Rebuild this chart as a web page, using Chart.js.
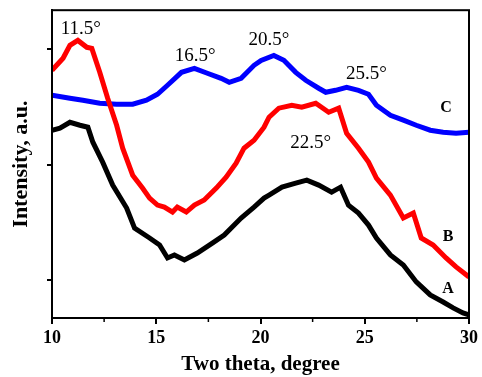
<!DOCTYPE html>
<html>
<head>
<meta charset="utf-8">
<script src="https://cdn.jsdelivr.net/npm/chart.js@4/dist/chart.umd.min.js"></script>
<style>
  html, body { margin: 0; padding: 0; background: #fff; }
  #wrap { width: 482px; height: 377px; }
</style>
</head>
<body>
<div id="wrap"><canvas id="xrd"></canvas></div>
<script>
// (two theta, intensity a.u.)
const xA = [10.0, 10.38, 10.86, 11.34, 11.72, 11.96, 12.43, 12.91, 13.58, 13.96, 14.68, 15.16, 15.54, 15.87, 16.35, 16.97, 17.69, 18.26, 19.07, 19.69, 20.17, 20.41, 21.03, 21.69, 22.22, 22.79, 23.41, 23.84, 24.22, 24.70, 25.18, 25.56, 26.23, 26.85, 27.47, 28.14, 28.76, 29.24, 29.71, 30.0];
const yA = [229.9, 231.6, 236.8, 234.2, 232.5, 219.5, 202.2, 182.3, 162.4, 145.0, 136.4, 130.3, 119.1, 121.7, 117.3, 123.4, 132.0, 139.0, 153.7, 163.2, 171.0, 173.6, 180.5, 184.0, 186.6, 182.3, 176.2, 180.5, 164.9, 158.0, 147.6, 136.4, 121.7, 113.0, 98.3, 87.0, 80.9, 75.8, 71.4, 69.7];

const xB = [10.0, 10.53, 10.86, 11.24, 11.67, 11.91, 12.29, 12.67, 13.10, 13.39, 13.87, 14.34, 14.68, 15.06, 15.39, 15.78, 16.01, 16.44, 16.83, 17.30, 17.88, 18.35, 18.83, 19.21, 19.69, 20.17, 20.41, 20.88, 21.50, 21.98, 22.65, 23.27, 23.75, 24.13, 24.70, 25.18, 25.56, 26.23, 26.85, 27.33, 27.71, 28.28, 28.90, 29.38, 30.0];
const yB = [281.9, 292.3, 303.5, 307.8, 301.8, 300.9, 280.1, 257.6, 234.2, 214.3, 190.9, 179.7, 171.0, 165.0, 163.2, 158.9, 163.2, 158.9, 165.0, 169.3, 179.7, 189.2, 201.3, 214.3, 221.2, 232.5, 241.2, 249.0, 251.6, 249.8, 253.3, 245.5, 249.0, 227.3, 214.3, 202.2, 188.3, 173.6, 153.7, 158.0, 136.4, 130.3, 119.1, 111.3, 102.6];

const xC = [10.0, 10.86, 11.48, 12.29, 13.10, 13.87, 14.53, 15.06, 15.54, 16.21, 16.83, 17.45, 18.11, 18.50, 19.07, 19.69, 20.03, 20.64, 21.12, 21.69, 22.17, 22.79, 23.13, 23.60, 24.13, 24.70, 25.18, 25.56, 26.23, 26.85, 27.47, 28.14, 28.76, 29.38, 30.0];
const yC = [260.2, 257.6, 255.9, 253.3, 252.4, 252.4, 255.9, 261.1, 268.9, 280.1, 283.6, 279.3, 274.9, 271.5, 274.9, 286.2, 290.5, 294.8, 290.5, 280.1, 273.2, 266.3, 262.8, 264.5, 267.1, 264.5, 261.1, 251.6, 242.9, 238.6, 234.2, 229.9, 228.2, 227.3, 228.2];

const xTicks = [10, 15, 20, 25, 30];
const xMinor = [12.5, 17.5, 22.5, 27.5];
const yTicks = [100, 200, 300];

// peak notes and curve letters, placed in data units
const notes = [
  { text: '11.5°', x: 11.38, y: 318, bold: false },
  { text: '16.5°', x: 16.87, y: 294, bold: false },
  { text: '20.5°', x: 20.41, y: 308, bold: false },
  { text: '25.5°', x: 25.08, y: 279, bold: false },
  { text: '22.5°', x: 22.41, y: 219, bold: false },
  { text: 'C', x: 28.9, y: 249, bold: true },
  { text: 'B', x: 29.0, y: 137, bold: true },
  { text: 'A', x: 29.0, y: 92, bold: true }
];

const pts = (xs, ys) => xs.map((x, i) => ({ x: x, y: ys[i] }));
const serif = '"Liberation Serif", "Times New Roman", serif';

const frameAndNotes = {
  id: 'frameAndNotes',
  afterDraw(chart) {
    const { ctx, chartArea: a, scales } = chart;
    ctx.save();
    ctx.strokeStyle = '#000';
    ctx.lineWidth = 2;
    ctx.strokeRect(a.left, a.top, a.right - a.left, a.bottom - a.top);
    // minor ticks on x
    ctx.lineWidth = 1.5;
    xMinor.forEach(v => {
      const px = scales.x.getPixelForValue(v);
      ctx.beginPath();
      ctx.moveTo(px, a.bottom);
      ctx.lineTo(px, a.bottom + 4);
      ctx.stroke();
    });
    ctx.fillStyle = '#000';
    ctx.textAlign = 'center';
    ctx.textBaseline = 'middle';
    notes.forEach(n => {
      ctx.font = n.bold ? 'bold 16px ' + serif : '19px ' + serif;
      ctx.fillText(n.text, scales.x.getPixelForValue(n.x), scales.y.getPixelForValue(n.y));
    });
    ctx.restore();
  }
};

new Chart(document.getElementById('xrd'), {
  type: 'line',
  data: {
    datasets: [
      { label: 'A', data: pts(xA, yA), borderColor: '#000000', order: 1 },
      { label: 'B', data: pts(xB, yB), borderColor: '#ff0000', order: 0 },
      { label: 'C', data: pts(xC, yC), borderColor: '#0000ff', order: 2 }
    ]
  },
  options: {
    responsive: true,
    maintainAspectRatio: false,
    animation: false,
    layout: { padding: { top: 10, right: 11, left: 0, bottom: 0 } },
    elements: {
      line: { borderWidth: 5, tension: 0 },
      point: { radius: 0 }
    },
    plugins: { legend: { display: false }, tooltip: { enabled: false } },
    scales: {
      x: {
        type: 'linear',
        min: 10,
        max: 30,
        afterBuildTicks: s => { s.ticks = xTicks.map(v => ({ value: v })); },
        afterFit: s => { s.height = 59; },
        ticks: {
          color: '#000',
          padding: 4,
          maxRotation: 0,
          font: { family: serif, size: 18, weight: 'bold' }
        },
        grid: { drawOnChartArea: false, color: '#000', lineWidth: 2, tickLength: 6 },
        border: { display: true, color: '#000', width: 2 },
        title: {
          display: true,
          text: 'Two theta, degree',
          color: '#000',
          padding: { top: 0, bottom: 0 },
          font: { family: serif, size: 21, weight: 'bold' }
        }
      },
      y: {
        min: 67,
        max: 334,
        afterBuildTicks: s => { s.ticks = yTicks.map(v => ({ value: v })); },
        afterFit: s => { s.width = 52; },
        ticks: { callback: () => '', color: '#000' },
        grid: { drawOnChartArea: false, color: '#000', lineWidth: 2, tickLength: 5 },
        border: { display: true, color: '#000', width: 2 },
        title: {
          display: true,
          text: 'Intensity, a.u.',
          color: '#000',
          padding: { top: 8, bottom: 0 },
          font: { family: serif, size: 22, weight: 'bold' }
        }
      }
    }
  },
  plugins: [frameAndNotes]
});
</script>
</body>
</html>
